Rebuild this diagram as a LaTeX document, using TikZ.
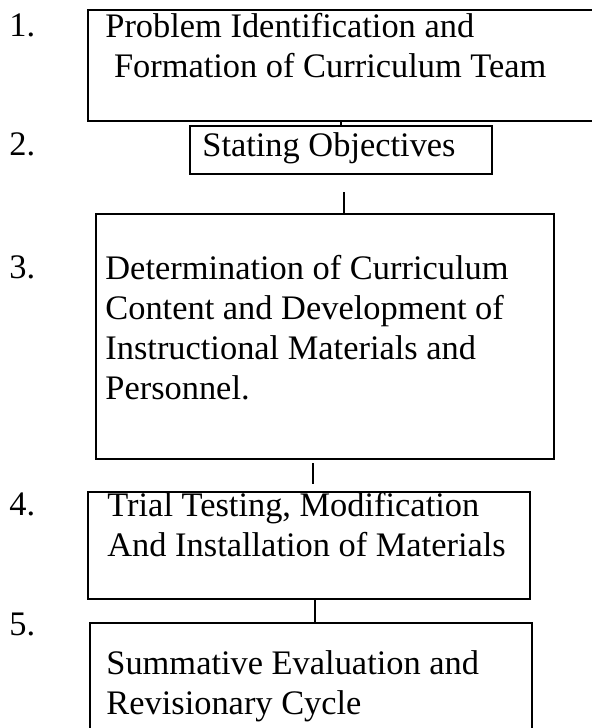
\documentclass[tikz,border=0pt]{standalone}
\usepackage{fontspec}
\setmainfont{Liberation Serif}
\usetikzlibrary{positioning}

\tikzset{
    stage/.style={draw, rectangle, line width=1pt, inner sep=0pt, anchor=north west},
    stagetext/.style={align=left, inner sep=0pt, anchor=north west, font=\fontsize{17.2}{20}\selectfont},
    num/.style={inner sep=0pt, anchor=base west, font=\fontsize{17.2}{20}\selectfont},
    link/.style={line width=1pt}
}

\begin{document}
\begin{tikzpicture}[x=0.5pt, y=-0.5pt]
        \useasboundingbox (0,0) rectangle (592,728);
        % the five stages
        \node[stage, minimum width=260pt, minimum height=55.5pt] (s1) at (87,9) {};
        \node[stage, minimum width=151pt, minimum height=24pt] (s2) at (189,125) {};
        \node[stage, minimum width=229pt, minimum height=122.5pt] (s3) at (95,213) {};
        \node[stage, minimum width=221pt, minimum height=53.5pt] (s4) at (87,491) {};
        \node[stage, minimum width=221pt, minimum height=70pt] (s5) at (89,622) {};
        \node[stagetext] (t1) at (105,13) {Problem Identification and\\~Formation of Curriculum Team};
        \node[stagetext] (t2) at (202,132) {Stating Objectives};
        \node[stagetext] (t3) at (105,255) {Determination of Curriculum\\Content and Development of\\Instructional Materials and\\Personnel.};
        \node[stagetext] (t4) at (107,492) {Trial Testing, Modification\\And Installation of Materials};
        \node[stagetext] (t5) at (106,650) {Summative Evaluation and\\Revisionary Cycle};
        % step numbers
        \node[num] (n1) at (9,36) {1.};
        \node[num] (n2) at (9,155) {2.};
        \node[num] (n3) at (9,278) {3.};
        \node[num] (n4) at (9,515) {4.};
        \node[num] (n5) at (9,635) {5.};
        % joins
        \coordinate (j23) at (344,192);
        \coordinate (j34a) at (313,463);
        \coordinate (j34b) at (313,484);
        \draw[link] (s1.south -| s2.north) -- (s2.north);
        \draw[link] (j23) -- (j23 |- s3.north);
        \draw[link] (j34a) -- (j34b);
        \draw[link] ([xshift=3pt]s4.south) -- ([xshift=3pt]s4.south |- s5.north);
    \end{tikzpicture}
\end{document}
